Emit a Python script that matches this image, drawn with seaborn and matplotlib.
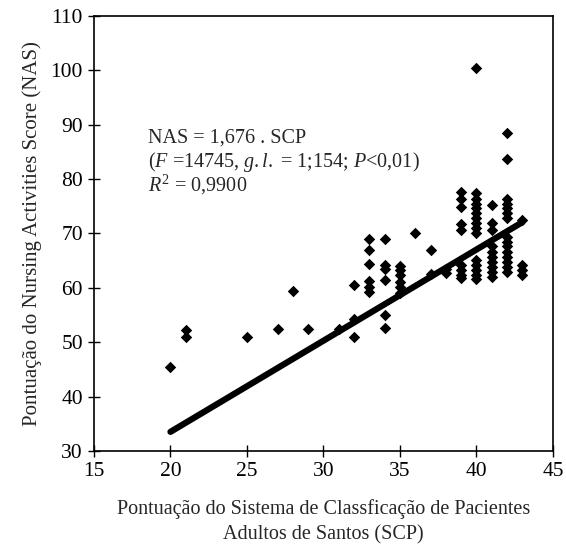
import numpy as np
import pandas as pd
import seaborn as sns
import matplotlib.pyplot as plt

# SCP score (x) and NAS score (y)
scp = [20, 21, 21, 25, 27, 28, 29, 31,
       32, 32, 32,
       33, 33, 33, 33, 33, 33,
       34, 34, 34, 34, 34, 34,
       35, 35, 35, 35, 35, 35,
       36, 37, 37, 38, 38,
       39, 39, 39, 39, 39, 39, 39, 39, 39,
       40, 40, 40, 40, 40, 40, 40, 40, 40, 40, 40, 40, 40, 40, 40,
       41, 41, 41, 41, 41, 41, 41, 41, 41, 41,
       42, 42, 42, 42, 42, 42, 42, 42, 42, 42, 42, 42, 42, 42, 42,
       43, 43, 43, 43]
nas = [45.5, 52.2, 51.0, 51.0, 52.5, 59.4, 52.5, 52.5,
       60.5, 54.3, 51.0,
       69.0, 67.0, 64.4, 61.2, 60.2, 59.3,
       69.0, 64.2, 63.4, 61.4, 55.0, 52.6,
       64.0, 63.3, 62.4, 61.1, 60.2, 59.0,
       70.0, 67.0, 62.5, 63.5, 62.7,
       77.7, 76.4, 74.9, 71.8, 70.6, 64.2, 63.3, 62.4, 61.8,
       100.5, 77.4, 76.4, 75.5, 74.6, 73.7, 72.8, 71.9, 71.0, 70.0, 65.1, 64.2, 63.3, 62.4, 61.7,
       75.2, 71.9, 70.6, 67.6, 66.6, 65.7, 64.8, 63.9, 63.0, 62.0,
       88.5, 83.7, 76.4, 75.5, 74.6, 73.7, 72.8, 69.4, 68.5, 67.6, 66.6, 65.7, 64.8, 63.9, 63.0,
       72.5, 64.2, 63.3, 62.3]
slope = 1.676

eq_lines = ["NAS = 1,676 . SCP",
            r"($\mathit{F}$ =14745, $\mathit{g.l.}$ = 1;154; $\mathit{P}$<0,01)",
            r"$\mathit{R}^2$ = 0,9900"]

df = pd.DataFrame({"SCP": scp, "NAS": nas})
xs = np.array([df["SCP"].min(), df["SCP"].max()])
fit = pd.DataFrame({"SCP": xs, "NAS": slope * xs})

sns.set_style("ticks")
plt.rcParams['font.family'] = ['Liberation Serif', 'DejaVu Serif']
plt.rcParams['mathtext.fontset'] = 'custom'
plt.rcParams['mathtext.rm'] = 'Liberation Serif'
plt.rcParams['mathtext.it'] = 'Liberation Serif:italic'

fig = plt.figure(figsize=(5.66, 5.47), dpi=100)
ax = fig.add_axes([0.166, 0.1755, 0.811, 0.7955])

sns.lineplot(data=fit, x="SCP", y="NAS", color="black", linewidth=4.5, ax=ax, zorder=2)
sns.scatterplot(data=df, x="SCP", y="NAS", marker="D", color="black", s=34,
                linewidth=0, ax=ax, zorder=3)

ax.set_xlim(15, 45)
ax.set_ylim(30, 110)
ax.set_xticks(range(15, 46, 5))
ax.set_yticks(range(30, 111, 10))
ax.tick_params(direction="inout", length=9, width=1, labelsize=15.5, colors="black")
for sp in ax.spines.values():
    sp.set_visible(True)
    sp.set_linewidth(1.2)
    sp.set_color("black")

ax.set_xlabel("Pontuação do Sistema de Classficação de Pacientes\nAdultos de Santos (SCP)",
              fontsize=14.5, labelpad=13, linespacing=1.4)
ax.set_ylabel("Pontuação do Nursing Activities Score (NAS)", fontsize=15, labelpad=6)

for i, line in enumerate(eq_lines):
    ax.text(18.5, 87.5 - i * 4.3, line, fontsize=14.5, va="center", ha="left")

fig.savefig("out.png", dpi=100)
